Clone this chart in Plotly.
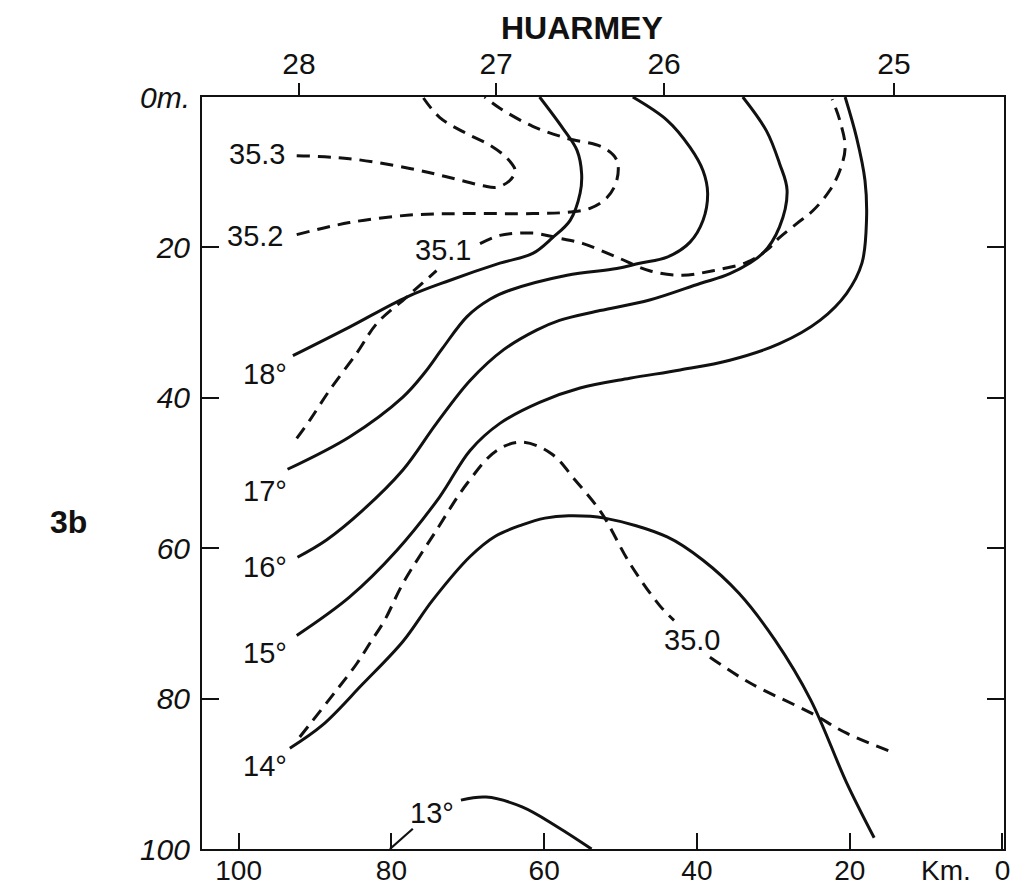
import plotly.graph_objects as go

# ---------------- data (distance offshore in km, depth in m) ----------------
# Temperature isotherms (solid)
t18_km = [92.9, 85.5, 78.0, 72.4, 65.8, 61.5, 58.9, 56.6, 55.3, 55.1, 55.7, 57.6, 60.6]
t18_depth = [34.4, 30.6, 26.6, 24.4, 22.1, 20.8, 18.7, 16.4, 12.8, 10.2, 7.1, 4.1, 0.0]

t17_km = [93.6, 85.5, 78.5, 75.6, 73.3, 70.1, 67.1, 64.5, 57.0, 50.5, 47.5, 43.9, 40.9, 39.2, 38.6, 39.2, 40.9, 43.9, 48.4]
t17_depth = [49.5, 45.2, 39.9, 36.6, 33.4, 29.2, 26.9, 25.7, 23.7, 22.8, 22.1, 21.3, 19.3, 16.4, 12.8, 9.8, 6.7, 3.1, 0.0]

t16_km = [92.3, 88.5, 83.8, 78.5, 74.1, 69.7, 65.3, 61.0, 58.0, 52.7, 46.2, 39.6, 35.7, 31.4, 29.2, 28.2, 29.2, 30.9, 34.0]
t16_depth = [61.2, 58.9, 55.0, 49.6, 43.4, 37.7, 33.6, 31.0, 29.7, 28.4, 27.0, 24.8, 23.5, 20.8, 17.3, 12.4, 8.8, 4.5, 0.0]

t15_km = [92.4, 85.5, 79.3, 73.7, 69.7, 65.8, 60.6, 55.3, 48.8, 42.2, 35.7, 29.2, 23.9, 20.4, 18.4, 17.8, 18.0, 19.1, 20.6]
t15_depth = [71.6, 66.5, 60.3, 53.2, 47.0, 43.4, 40.6, 38.7, 37.4, 36.3, 35.0, 32.8, 29.7, 26.1, 22.1, 16.4, 11.1, 5.4, 0.0]

t14_km = [93.3, 89.0, 83.8, 78.5, 74.6, 69.7, 66.4, 62.9, 59.9, 56.8, 52.1, 43.9, 39.2, 34.5, 29.8, 25.1, 20.4, 16.8]
t14_depth = [86.6, 83.5, 78.1, 72.4, 66.9, 61.1, 58.4, 56.9, 56.0, 55.7, 56.0, 58.5, 61.6, 66.0, 72.2, 80.2, 91.2, 98.5]

t13_km = [70.9, 67.6, 62.9, 58.2, 53.8]
t13_depth = [93.5, 93.1, 94.4, 97.1, 100.0]

# Salinity isohalines (dashed); None = gap left for the label
s353_km = [92.4, 85.5, 77.6, 72.4, 68.0, 66.2, 64.5, 63.8, 64.8, 67.1, 70.1, 73.7, 75.9]
s353_depth = [7.8, 8.2, 9.5, 10.7, 11.8, 12.0, 11.1, 9.8, 8.2, 6.4, 4.9, 2.7, 0.0]

s352_km = [92.4, 85.5, 77.6, 70.1, 61.5, 56.6, 54.0, 51.8, 50.5, 50.5, 52.3, 57.0, 61.5, 65.8, 67.8]
s352_depth = [18.3, 16.7, 15.7, 15.5, 15.5, 15.3, 14.8, 13.4, 11.1, 8.4, 6.7, 5.5, 3.9, 1.5, 0.0]

s351_km = [92.4, 90.7, 88.1, 84.5, 81.9, 78.0, 74.1, None,
           68.4, 65.8, 61.5, 58.4, 54.9, 50.5, 46.2, 41.9, 37.9, 33.5, 30.9,
           29.2, 26.9, 24.8, 22.6, 21.3, 20.6, 21.3, 22.3]
s351_depth = [45.4, 43.0, 39.0, 34.0, 30.1, 26.6, 23.1, None,
              19.5, 18.4, 18.1, 18.7, 19.5, 21.3, 23.1, 23.7, 23.1, 22.0, 20.4,
              18.7, 16.8, 15.1, 12.4, 9.8, 6.7, 3.1, 0.3]

s350_km = [92.0, 87.2, 84.5, 82.8, 80.9, 78.5, 74.1, 70.1, 66.2, 62.9, 59.1, 55.9,
           52.5, 48.8, 44.9, 43.0, None, 38.3, 33.1, 25.1, 20.4, 14.2]
s350_depth = [85.1, 78.9, 75.3, 72.6, 69.6, 64.7, 57.6, 51.4, 47.0, 45.9, 47.4, 51.0,
              55.3, 62.0, 67.6, 69.6, None, 74.5, 77.9, 81.9, 84.6, 87.2]

# leader from the 13° label to the bottom axis
lead13_km = [80.2, 77.2]
lead13_depth = [100.0, 97.3]

# contour labels
label_text = ["35.3", "35.2", "35.1", "35.0", "18°", "17°", "16°", "15°", "14°", "13°"]
label_km = [97.6, 97.8, 73.3, 40.7, 96.6, 96.6, 96.6, 96.5, 96.6, 74.7]
label_depth = [7.6, 18.5, 20.4, 72.2, 36.9, 52.4, 62.5, 74.0, 89.0, 95.2]

# axes
km_ticks = [100, 80, 60, 40, 20, 0]
km_ticktext = ["100", "80", "60", "40", "20", "0"]
station_km = [92.1, 66.3, 44.3, 14.2]
station_text = ["28", "27", "26", "25"]
depth_ticks = [0, 20, 40, 60, 80, 100]
depth_text = ["0m.", "20", "40", "60", "80", "100"]

# ---------------- figure ----------------
FONT = "Liberation Sans"
INK = "#111111"
LW = 3.0
fig = go.Figure()

solid = [(t18_km, t18_depth), (t17_km, t17_depth), (t16_km, t16_depth),
         (t15_km, t15_depth), (t14_km, t14_depth)]
for xs, ys in solid:
    fig.add_trace(go.Scatter(x=xs, y=ys, mode="lines",
                             line=dict(color=INK, width=LW, shape="spline", smoothing=1.0),
                             hoverinfo="skip", showlegend=False))
# 13° isotherm on the top (station) axis, which shares the same km range
fig.add_trace(go.Scatter(x=t13_km, y=t13_depth, mode="lines", xaxis="x2",
                         line=dict(color=INK, width=LW, shape="spline"),
                         hoverinfo="skip", showlegend=False))

dashed = [(s353_km, s353_depth), (s352_km, s352_depth), (s351_km, s351_depth), (s350_km, s350_depth)]
for xs, ys in dashed:
    fig.add_trace(go.Scatter(x=xs, y=ys, mode="lines", connectgaps=False,
                             line=dict(color=INK, width=LW, dash="13px,8px", shape="spline", smoothing=1.0),
                             hoverinfo="skip", showlegend=False))

fig.add_trace(go.Scatter(x=lead13_km, y=lead13_depth, mode="lines",
                         line=dict(color=INK, width=2.2), hoverinfo="skip", showlegend=False))

annotations = []
for t, x, y in zip(label_text, label_km, label_depth):
    annotations.append(dict(text=t, x=x, y=y, xref="x", yref="y", showarrow=False,
                            xanchor="center", yanchor="middle",
                            font=dict(family=FONT, size=29, color=INK)))
annotations.append(dict(text="Km.", x=7.4, y=0, xref="x", yref="paper", showarrow=False,
                        xanchor="center", yanchor="top", yshift=-4,
                        font=dict(family=FONT, size=28, color=INK)))
annotations.append(dict(text="<b>HUARMEY</b>", x=0.474, y=1.092, xref="paper", yref="paper",
                        showarrow=False, xanchor="center", yanchor="middle",
                        font=dict(family=FONT, size=32, color=INK)))
annotations.append(dict(text="<b>3b</b>", x=-0.167, y=0.435, xref="paper", yref="paper",
                        showarrow=False, xanchor="center", yanchor="middle",
                        font=dict(family=FONT, size=32, color=INK)))

xr = [104.8, -0.2]
fig.update_layout(
    width=1014, height=892,
    margin=dict(l=202, r=10, t=97, b=43),
    paper_bgcolor="white", plot_bgcolor="white",
    font=dict(family=FONT, size=28, color=INK),
    annotations=annotations,
    xaxis=dict(range=xr, tickvals=km_ticks, ticktext=km_ticktext,
               ticks="inside", ticklen=16, tickwidth=2, tickcolor=INK,
               showline=True, linewidth=2, linecolor=INK, mirror=True,
               showgrid=False, zeroline=False, ticklabelstandoff=-5, automargin=False,
               tickfont=dict(family=FONT, size=28, color=INK)),
    xaxis2=dict(range=xr, overlaying="x", side="top", tickvals=station_km, ticktext=station_text,
                ticks="outside", ticklen=13, tickwidth=2, tickcolor=INK,
                showline=False, showgrid=False, zeroline=False, ticklabelstandoff=-3,
                automargin=False, tickfont=dict(family=FONT, size=30, color=INK)),
    yaxis=dict(range=[100, 0], tickvals=depth_ticks,
               ticktext=["<i>%s</i>" % t for t in depth_text],
               ticks="inside", ticklen=17, tickwidth=2, tickcolor=INK,
               showline=True, linewidth=2, linecolor=INK, mirror="ticks",
               showgrid=False, zeroline=False, ticklabelstandoff=4, automargin=False,
               tickfont=dict(family=FONT, size=30, color=INK)),
)

fig.write_html("out.html", config={"displayModeBar": False},
               post_script="document.body.style.margin='0';"
                           "document.documentElement.style.overflow='hidden';")
